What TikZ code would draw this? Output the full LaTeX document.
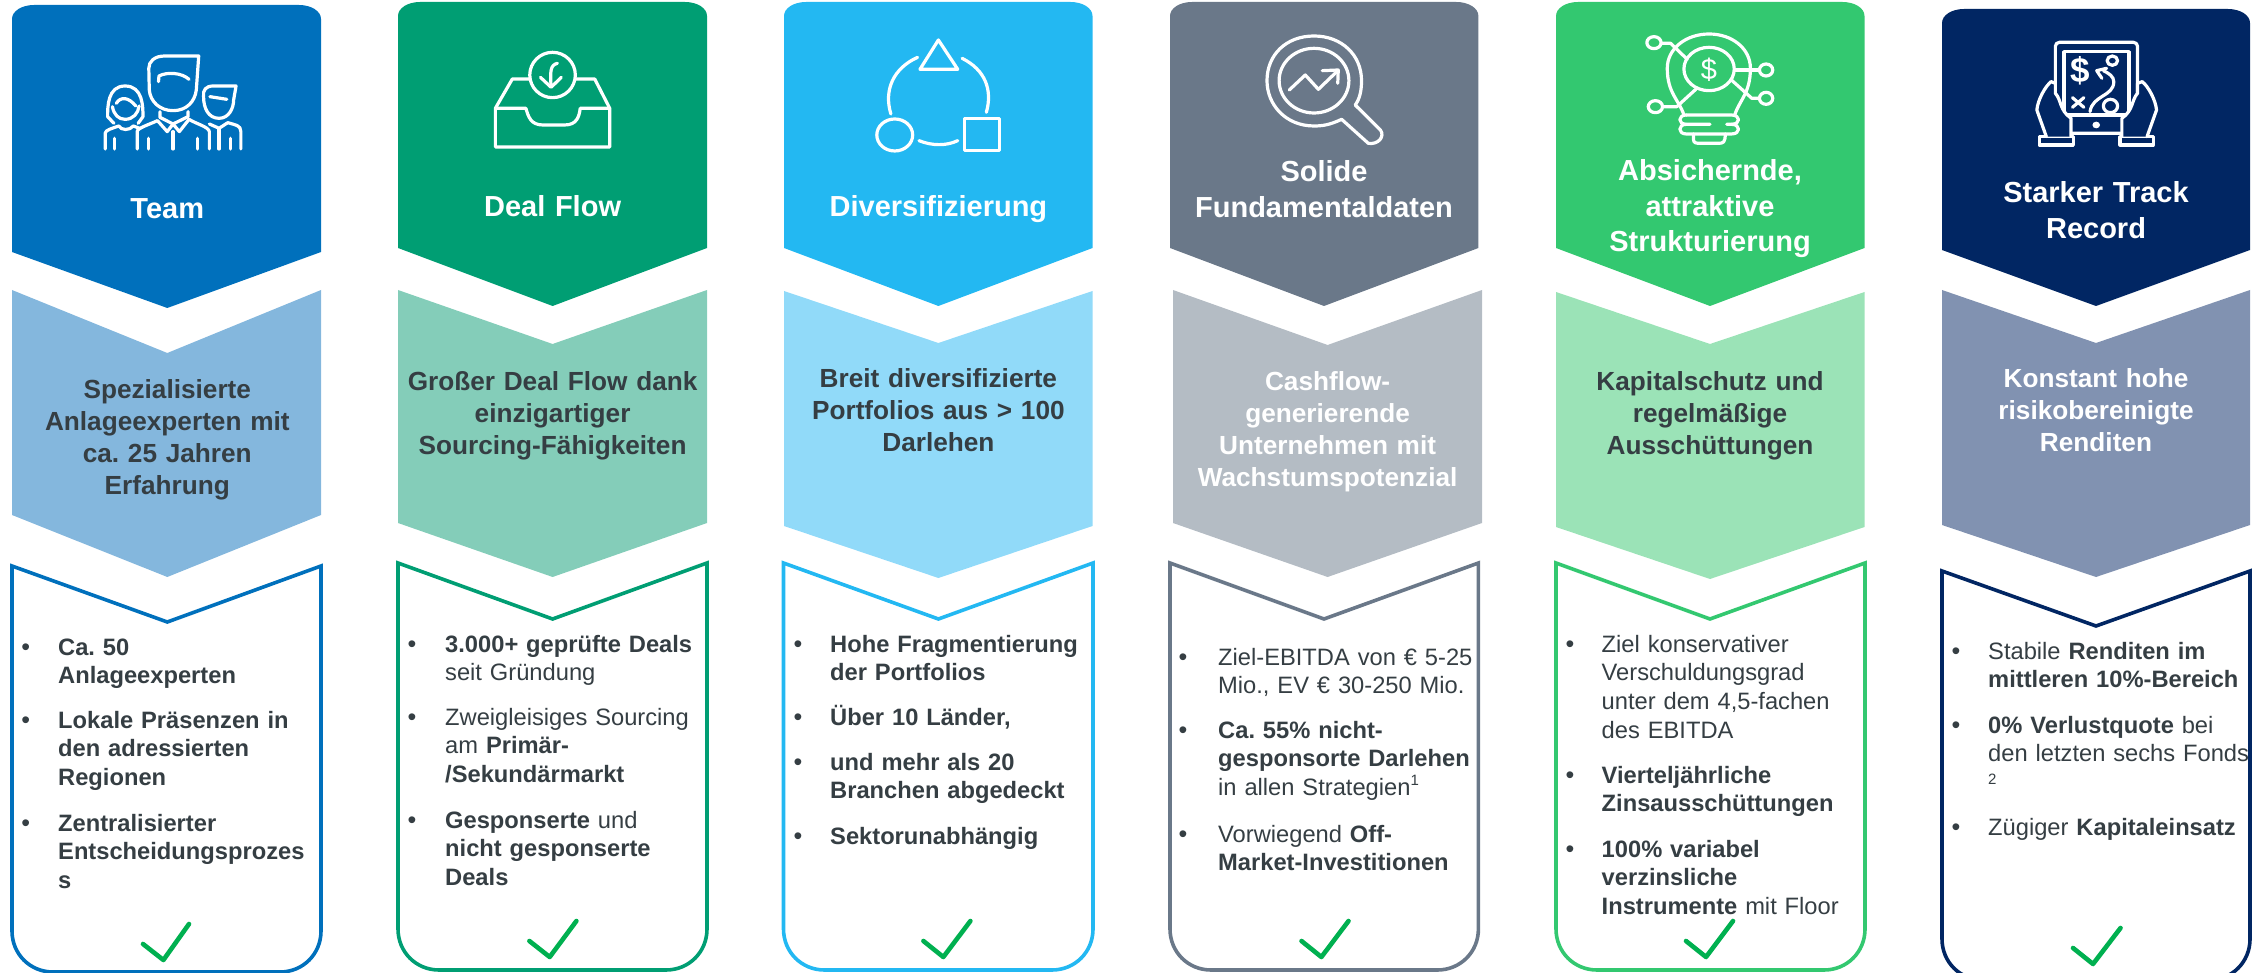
\documentclass[tikz,border=0pt]{standalone}
\usepackage{fontspec}
\setmainfont{Liberation Sans}
\frenchspacing
\definecolor{txt}{HTML}{353E43}
\definecolor{ca}{HTML}{0070BC}\definecolor{la}{HTML}{84B7DD}
\definecolor{cb}{HTML}{009E73}\definecolor{lb}{HTML}{84CDB9}
\definecolor{cc}{HTML}{23B8F2}\definecolor{lc}{HTML}{91DAF9}
\definecolor{cd}{HTML}{6A7889}\definecolor{ld}{HTML}{B4BCC4}
\definecolor{ce}{HTML}{33C870}\definecolor{le}{HTML}{9BE3B7}
\definecolor{cf}{HTML}{012663}\definecolor{lf}{HTML}{8192B1}
\definecolor{chk}{HTML}{00B050}
\tikzset{
  titletext/.style={anchor=base,inner sep=0,text width=320pt,align=center,text=white,font=\frenchspacing\fontsize{29}{35.3}\selectfont\bfseries},
  subtext/.style={anchor=base,inner sep=0,text width=320pt,align=center,text=txt,font=\frenchspacing\fontsize{26.2}{32}\selectfont\bfseries},
  bodytext/.style={anchor=base west,inner sep=0,text width=300pt,align=left,text=txt,font=\frenchspacing\fontsize{23.7}{28.8}\selectfont},
  bulletmark/.style={anchor=base,inner sep=0,text=txt,font=\fontsize{25}{28}\selectfont},
  icon/.style={draw=white,line width=3.2pt,line cap=round,line join=round},
  checkmark/.style={draw=chk,line width=4.6pt,line cap=round,line join=round},
  outline/.style={line width=3.6pt,fill=white,line join=miter},
  zoomA/.style={x=0.4847pt,y=-0.3333pt},
  zoomB/.style={x=0.4847pt,y=-0.3333pt,shift={(1568,0)}},
  zoomC/.style={x=0.475pt,y=-0.3333pt,shift={(3200,0)}},
}
\newcommand{\topchev}[7]{\fill[#7] (#1,#4+14) .. controls (#1,#4+6) and (#1+10,#4) .. (#1+22,#4) -- (#2-22,#4) .. controls (#2-10,#4) and (#2,#4+6) .. (#2,#4+14) -- (#2,#5) -- (#3,#6) -- (#1,#5) -- cycle;}
\newcommand{\midchev}[8]{\fill[#8] (#1,#4) -- (#3,#5) -- (#2,#4) -- (#2,#6) -- (#3,#7) -- (#1,#6) -- cycle;}
\newcommand{\outcard}[7]{\draw[outline,draw=#7] (#3,#5) -- (#2,#4) -- (#2,#6-41) .. controls (#2,#6-18) and (#2-18,#6) .. (#2-41,#6) -- (#1+41,#6) .. controls (#1+18,#6) and (#1,#6-18) .. (#1,#6-41) -- (#1,#4) -- cycle;}
\newcommand{\chk}[6]{\draw[checkmark] (#1,#2) -- (#3,#4) -- (#5,#6);}
\begin{document}
\begin{tikzpicture}[x=1pt,y=-1pt]
\useasboundingbox (0,0) rectangle (2265,973);
% ---- shapes
\topchev{12}{321}{167.3}{5}{252}{308}{ca}
\topchev{398}{707}{552.6}{2}{248}{306}{cb}
\topchev{784}{1092.5}{938.4}{2}{248}{306}{cc}
\topchev{1170}{1478.4}{1324}{2}{248}{306}{cd}
\topchev{1556}{1864.5}{1710}{2}{248}{306}{ce}
\topchev{1942}{2250}{2096}{9}{250}{306}{cf}
\midchev{12}{321}{167.3}{290}{353}{515}{577}{la}
\midchev{398}{707}{552.6}{290}{344}{523}{577}{lb}
\midchev{784}{1092.5}{938.4}{291}{343}{526}{578}{lc}
\midchev{1173}{1482}{1327.6}{290}{345}{523}{577}{ld}
\midchev{1556}{1864.5}{1710}{292}{344}{527}{579}{le}
\midchev{1942}{2250}{2096}{290}{343}{525}{577}{lf}
\outcard{12}{321}{167.3}{566}{622}{972}{ca}
\outcard{398}{707}{552.6}{563}{619}{970}{cb}
\outcard{783.5}{1093}{938.4}{563}{619}{970}{cc}
\outcard{1170}{1478.4}{1324}{563}{619}{970}{cd}
\outcard{1556}{1865}{1710}{563}{619}{970}{ce}
\outcard{1942}{2250}{2096}{571}{626}{980}{cf}
% ---- check marks
\chk{143}{944}{163.4}{960}{189}{924}
\chk{529.4}{941}{549.7}{957}{576.4}{921}
\chk{923.4}{941}{943.3}{957}{970.4}{921}
\chk{1301.5}{941}{1321.4}{957}{1348.5}{921}
\chk{1686}{941}{1706}{957}{1733}{921}
\chk{2073}{948}{2093}{964}{2120.5}{928}
% ---- icon 1 team
\begin{scope}[zoomA,icon]
\draw (410,168) -- (340,168) .. controls (318,168) and (307,185) .. (307,205) -- (308,270) .. controls (310,305) and (330,332) .. (357,332) .. controls (385,332) and (402,305) .. (405,270) -- cycle;
\draw (327,245) -- (328,228) .. controls (345,215) and (375,218) .. (390,238);
\draw (283,447) -- (283,395) .. controls (283,385) and (305,375) .. (325,362) -- (345,395) -- (357,372) -- (370,395) -- (390,358) .. controls (405,372) and (430,380) .. (432,395) -- (432,447);
\draw (330,335) -- (330,352) -- (357,372) -- (388,350) -- (388,335);
\draw (357,395) -- (357,447);
\draw (307,415) -- (307,447);\draw (407,415) -- (407,447);
\draw (222,350) .. controls (222,320) and (222,258) .. (258,258) .. controls (295,258) and (295,320) .. (295,350) -- (285,370);
\draw (222,350) -- (235,370);
\draw (232,320) .. controls (235,345) and (245,358) .. (258,358) .. controls (275,358) and (285,340) .. (287,318);
\draw (240,310) .. controls (248,290) and (265,290) .. (280,318);
\draw (217,447) -- (217,400) .. controls (217,390) and (232,385) .. (245,378) .. controls (250,392) and (268,392) .. (275,378) -- (288,385);
\draw (237,415) -- (237,447);
\draw (487,258) -- (440,258) .. controls (425,258) and (418,270) .. (420,290) .. controls (420,325) and (430,355) .. (452,355) .. controls (472,355) and (482,325) .. (482,300) -- cycle;
\draw (433,290) -- (468,298);
\draw (432,372) -- (452,385) -- (470,368) .. controls (485,375) and (497,375) .. (497,395) -- (497,447);
\draw (452,385) -- (452,447);
\draw (475,415) -- (475,447);
\end{scope}
% ---- icon 2 tray
\begin{scope}[zoomA,icon]
\draw (1022,325) -- (1085,325) .. controls (1090,350) and (1095,375) .. (1120,375) -- (1165,375) .. controls (1190,375) and (1195,350) .. (1197,325) -- (1258,325) -- (1258,441) -- (1022,441) -- cycle;
\draw (1022,325) -- (1057,237) -- (1094,237);
\draw (1187,237) -- (1227,237) -- (1258,325);
\draw (1140,225) ellipse[x radius=47,y radius=68];
\draw (1150,190) .. controls (1135,195) and (1135,215) .. (1137,260);
\draw (1115,232) -- (1137,262) -- (1158,232);
\end{scope}
% ---- icon 3 shapes
\begin{scope}[zoomB,icon]
\draw (368,120) -- (408,208) -- (330,208) -- cycle;
\draw (278,405) ellipse[x radius=37,y radius=48];
\draw (422,356) rectangle (494,452);
\draw (325,172) .. controls (275,205) and (255,270) .. (270,342);
\draw (417,175) .. controls (465,210) and (480,270) .. (467,337);
\draw (328,422) .. controls (355,438) and (385,438) .. (408,422);
\end{scope}
% ---- icon 4 magnifier
\begin{scope}[zoomB,icon]
\draw (1200,358) .. controls (1175,375) and (1160,378) .. (1143,378) .. controls (1085,378) and (1046,315) .. (1046,242) .. controls (1046,165) and (1085,108) .. (1143,108) .. controls (1200,108) and (1241,165) .. (1241,242) .. controls (1241,270) and (1238,295) .. (1228,315) -- (1280,390) .. controls (1290,410) and (1275,435) .. (1255,430) -- cycle;
\draw (1143,242) ellipse[x radius=72,y radius=97];
\draw (1092,270) -- (1125,225) -- (1152,268) -- (1190,215);
\draw (1160,212) -- (1193,210) -- (1192,250);
\end{scope}
% ---- icon 5 bulb
\begin{scope}[zoomC,icon]
\draw (345,345) .. controls (335,300) and (310,280) .. (310,205) .. controls (310,145) and (350,102) .. (398,102) .. controls (446,102) and (485,145) .. (485,205) .. controls (485,280) and (462,300) .. (452,345);
\draw (398,207) ellipse[x radius=53,y radius=65];
\draw (352,178) -- (317,130) -- (298,130);
\draw (282,128) ellipse[x radius=15,y radius=18];
\draw (452,210) -- (504,210);
\draw (518,210) ellipse[x radius=14,y radius=18];
\draw (445,240) -- (488,295) -- (504,295);
\draw (518,295) ellipse[x radius=14,y radius=18];
\draw (370,268) -- (330,320) -- (300,320);
\draw (285,320) ellipse[x radius=15,y radius=18];
\draw (350,345) -- (445,345) .. controls (465,345) and (465,373) .. (445,373) -- (435,373);
\draw (400,373) -- (350,373) .. controls (332,373) and (332,345) .. (350,345);
\draw (350,373) .. controls (332,373) and (332,402) .. (350,402) -- (445,402) .. controls (465,402) and (465,373) .. (445,373);
\draw (365,402) -- (365,418) .. controls (365,430) and (372,430) .. (380,430) -- (417,430) .. controls (428,430) and (432,428) .. (432,402);
\end{scope}
\node[inner sep=0,text=white,font=\fontsize{29}{29}\selectfont] (dollarA) at (1709,70) {\$};
% ---- icon 6 tablet
\begin{scope}[zoomC,icon]
\draw[rounded corners=4pt] (1127,127) rectangle (1300,400);
\draw (1145,155) rectangle (1282,345);
\draw (1247,182) circle[x radius=11,y radius=14];
\draw (1243,318) ellipse[x radius=15,y radius=20];
\draw (1200,335) .. controls (1205,285) and (1250,290) .. (1250,245) .. controls (1250,230) and (1240,220) .. (1228,212);
\draw (1235,205) -- (1214,212) -- (1225,235);
\draw (1163,293) -- (1187,322);\draw (1187,293) -- (1163,322);
\fill[white] (1213,375) ellipse[x radius=8,y radius=10];
\draw[fill=cf] (1093,410) rectangle (1165,435);
\draw[fill=cf] (1263,410) rectangle (1333,435);
\draw[fill=cf] (1108,410) -- (1088,330) .. controls (1090,300) and (1105,260) .. (1118,245) -- (1127,250) -- (1127,280) .. controls (1140,300) and (1135,330) .. (1160,355) -- (1160,410);
\draw[fill=cf] (1320,410) -- (1340,330) .. controls (1338,300) and (1323,260) .. (1310,245) -- (1300,250) -- (1300,280) .. controls (1287,300) and (1292,330) .. (1267,355) -- (1267,410);
\end{scope}
\node[inner sep=0,text=white,font=\fontsize{35}{35}\selectfont\bfseries] (dollarB) at (2080.5,71) {\$};
% ---- titles
\node[titletext] (t1) at (167.3,219) {Team};
\node[titletext] (t2) at (552.6,217) {Deal Flow};
\node[titletext] (t3) at (938.4,217) {Diversifizierung};
\node[titletext] (t4) at (1324,182) {Solide\\Fundamentaldaten};
\node[titletext] (t5) at (1710,181) {Absichernde,\\attraktive\\Strukturierung};
\node[titletext] (t6) at (2096,203) {Starker Track\\Record};
% ---- sub texts
\node[subtext] (s1) at (167.3,399) {Spezialisierte\\Anlageexperten mit\\ca. 25 Jahren\\Erfahrung};
\node[subtext] (s2) at (552.6,391) {Großer Deal Flow dank\\einzigartiger\\Sourcing-Fähigkeiten};
\node[subtext] (s3) at (938.4,388) {Breit diversifizierte\\Portfolios aus > 100\\Darlehen};
\node[subtext,text=white] (s4) at (1327.6,391) {Cashflow-\\generierende\\Unternehmen mit\\Wachstumspotenzial};
\node[subtext] (s5) at (1710,391) {Kapitalschutz und\\regelmäßige\\Ausschüttungen};
\node[subtext,text=white] (s6) at (2096,388) {Konstant hohe\\risikobereinigte\\Renditen};
% ---- column 1
\node[bulletmark] (b11) at (25.7,655) {•};
\node[bodytext] (p11) at (58,655) {\bfseries Ca. 50\\Anlageexperten};
\node[bulletmark] (b12) at (25.7,728) {•};
\node[bodytext] (p12) at (58,728) {\bfseries Lokale Präsenzen in\\den adressierten\\Regionen};
\node[bulletmark] (b13) at (25.7,831) {•};
\node[bodytext] (p13) at (58,831) {\bfseries Zentralisierter\\Entscheidungsprozes\\s};
% ---- column 2
\node[bulletmark] (b21) at (412,652) {•};
\node[bodytext] (p21) at (445,652) {\textbf{3.000+ geprüfte Deals}\\seit Gründung};
\node[bulletmark] (b22) at (412,725) {•};
\node[bodytext] (p22) at (445,725) {Zweigleisiges Sourcing\\am \textbf{Primär-}\\\textbf{/Sekundärmarkt}};
\node[bulletmark] (b23) at (412,828) {•};
\node[bodytext] (p23) at (445,828) {\textbf{Gesponserte} und\\\textbf{nicht gesponserte}\\\textbf{Deals}};
% ---- column 3
\node[bulletmark] (b31) at (798,652) {•};
\node[bodytext] (p31) at (830,652) {\bfseries Hohe Fragmentierung\\der Portfolios};
\node[bulletmark] (b32) at (798,725) {•};
\node[bodytext] (p32) at (830,725) {\bfseries Über 10 Länder,};
\node[bulletmark] (b33) at (798,770) {•};
\node[bodytext] (p33) at (830,770) {\bfseries und mehr als 20\\Branchen abgedeckt};
\node[bulletmark] (b34) at (798,844) {•};
\node[bodytext] (p34) at (830,844) {\bfseries Sektorunabhängig};
% ---- column 4
\node[bulletmark] (b41) at (1183,665) {•};
\node[bodytext] (p41) at (1218,665) {Ziel-EBITDA von € 5-25\\Mio., EV € 30-250 Mio.};
\node[bulletmark] (b42) at (1183,738) {•};
\node[bodytext] (p42) at (1218,738) {\textbf{Ca. 55\% nicht-}\\\textbf{gesponsorte Darlehen}\\in allen Strategien\raisebox{10pt}{\fontsize{15}{15}\selectfont 1}};
\node[bulletmark] (b43) at (1183,842) {•};
\node[bodytext] (p43) at (1218,842) {Vorwiegend \textbf{Off-}\\\textbf{Market-Investitionen}};
% ---- column 5
\node[bulletmark] (b51) at (1570,652) {•};
\node[bodytext] (p51) at (1601.5,652) {Ziel konservativer\\Verschuldungsgrad\\unter dem 4,5-fachen\\des EBITDA};
\node[bulletmark] (b52) at (1570,783) {•};
\node[bodytext] (p52) at (1601.5,783) {\bfseries Vierteljährliche\\Zinsausschüttungen};
\node[bulletmark] (b53) at (1570,857) {•};
\node[bodytext] (p53) at (1601.5,857) {\textbf{100\% variabel}\\\textbf{verzinsliche}\\\textbf{Instrumente} mit Floor};
% ---- column 6
\node[bulletmark] (b61) at (1956,659) {•};
\node[bodytext] (p61) at (1988,659) {Stabile \textbf{Renditen im}\\\textbf{mittleren 10\%-Bereich}};
\node[bulletmark] (b62) at (1956,733) {•};
\node[bodytext] (p62) at (1988,733) {\textbf{0\% Verlustquote} bei\\den letzten sechs Fonds};
\node[bodytext,font=\fontsize{15}{15}\selectfont] (p62b) at (1988,784) {2};
\node[bulletmark] (b63) at (1956,835) {•};
\node[bodytext] (p63) at (1988,835) {Zügiger \textbf{Kapitaleinsatz}};
\end{tikzpicture}
\end{document}
